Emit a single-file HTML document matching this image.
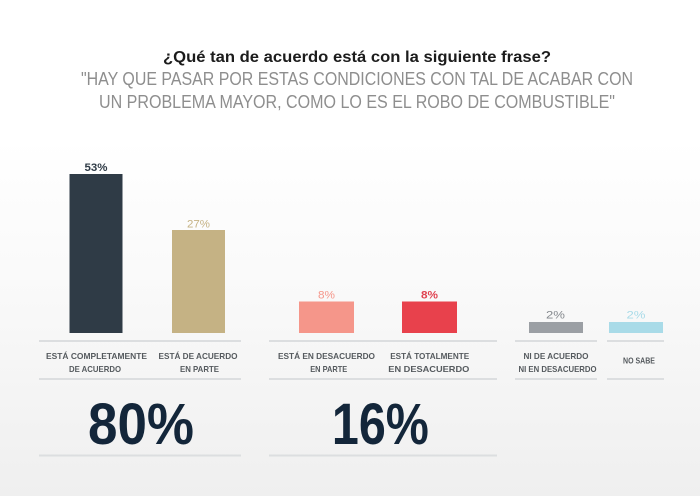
<!DOCTYPE html>
<html>
<head>
<meta charset="utf-8">
<style>
  html, body { margin:0; padding:0; }
  body { width:700px; height:496px; overflow:hidden;
    background: linear-gradient(to bottom, #ffffff 0%, #ffffff 28%, #f9f9f9 60%, #efefef 100%);
    font-family: "Liberation Sans", sans-serif; }
  svg { display:block; }
</style>
</head>
<body>
<svg width="700" height="496" viewBox="0 0 700 496" xmlns="http://www.w3.org/2000/svg" font-family="Liberation Sans, sans-serif">
  <!-- Title -->
  <text x="357" y="62" text-anchor="middle" font-size="15.5" font-weight="bold" fill="#1c1c1c" textLength="388" lengthAdjust="spacingAndGlyphs">¿Qué tan de acuerdo está con la siguiente frase?</text>
  <text x="357" y="85" text-anchor="middle" font-size="18" fill="#8e8e8e" textLength="552" lengthAdjust="spacingAndGlyphs">"HAY QUE PASAR POR ESTAS CONDICIONES CON TAL DE ACABAR CON</text>
  <text x="357" y="108" text-anchor="middle" font-size="18" fill="#8e8e8e" textLength="516" lengthAdjust="spacingAndGlyphs">UN PROBLEMA MAYOR, COMO LO ES EL ROBO DE COMBUSTIBLE"</text>

  <!-- Bars -->
  <rect x="69.5" y="174" width="53" height="159" fill="#2f3b46"/>
  <rect x="172" y="230" width="53" height="103" fill="#c5b284"/>
  <rect x="299" y="301.5" width="55" height="31.5" fill="#f5968a"/>
  <rect x="402" y="301.5" width="55" height="31.5" fill="#e8414c"/>
  <rect x="529" y="322" width="54" height="11" fill="#9b9fa4"/>
  <rect x="609" y="322" width="54" height="11" fill="#a9dbe8"/>

  <!-- Value labels -->
  <text x="96" y="171" text-anchor="middle" font-size="11" font-weight="bold" fill="#2f3b46" textLength="23" lengthAdjust="spacingAndGlyphs">53%</text>
  <text x="198.5" y="227.5" text-anchor="middle" font-size="11" fill="#c5b284" textLength="23" lengthAdjust="spacingAndGlyphs">27%</text>
  <text x="326.5" y="298.5" text-anchor="middle" font-size="11" fill="#f5968a" textLength="17" lengthAdjust="spacingAndGlyphs">8%</text>
  <text x="429.5" y="298.5" text-anchor="middle" font-size="11" font-weight="bold" fill="#e04452" textLength="17" lengthAdjust="spacingAndGlyphs">8%</text>
  <text x="555.5" y="318.5" text-anchor="middle" font-size="11" fill="#85898e" textLength="19" lengthAdjust="spacingAndGlyphs">2%</text>
  <text x="636" y="318.5" text-anchor="middle" font-size="11" fill="#a9dbe8" textLength="19" lengthAdjust="spacingAndGlyphs">2%</text>

  <!-- Separator lines -->
  <g stroke="#dcdee0" stroke-width="2">
    <line x1="39" y1="341" x2="241" y2="341"/>
    <line x1="269" y1="341" x2="497" y2="341"/>
    <line x1="515" y1="341" x2="597" y2="341"/>
    <line x1="607" y1="341" x2="664" y2="341"/>
    <line x1="39" y1="379" x2="241" y2="379"/>
    <line x1="269" y1="379" x2="497" y2="379"/>
    <line x1="515" y1="379" x2="597" y2="379"/>
    <line x1="607" y1="379" x2="664" y2="379"/>
    <line x1="39" y1="455.5" x2="241" y2="455.5"/>
    <line x1="269" y1="455.5" x2="497" y2="455.5"/>
  </g>

  <!-- Category labels -->
  <g font-size="8.5" font-weight="bold" fill="#555a5e" text-anchor="middle">
    <text x="96.5" y="359" textLength="101" lengthAdjust="spacingAndGlyphs">ESTÁ COMPLETAMENTE</text>
    <text x="95" y="372" textLength="52" lengthAdjust="spacingAndGlyphs">DE ACUERDO</text>
    <text x="198" y="359" textLength="79" lengthAdjust="spacingAndGlyphs">ESTÁ DE ACUERDO</text>
    <text x="199.5" y="372" textLength="39" lengthAdjust="spacingAndGlyphs">EN PARTE</text>
    <text x="326.5" y="359" textLength="97" lengthAdjust="spacingAndGlyphs">ESTÁ EN DESACUERDO</text>
    <text x="328.7" y="372" textLength="37" lengthAdjust="spacingAndGlyphs">EN PARTE</text>
    <text x="429.7" y="359" textLength="79" lengthAdjust="spacingAndGlyphs">ESTÁ TOTALMENTE</text>
    <text x="428.8" y="372" textLength="81" lengthAdjust="spacingAndGlyphs">EN DESACUERDO</text>
    <text x="556" y="359" textLength="65" lengthAdjust="spacingAndGlyphs">NI DE ACUERDO</text>
    <text x="557.5" y="372" textLength="78" lengthAdjust="spacingAndGlyphs">NI EN DESACUERDO</text>
    <text x="639" y="363.5" textLength="32" lengthAdjust="spacingAndGlyphs">NO SABE</text>
  </g>

  <!-- Big totals -->
  <text x="141" y="444" text-anchor="middle" font-size="58" font-weight="bold" fill="#13263a" textLength="106" lengthAdjust="spacingAndGlyphs">80%</text>
  <text x="380.4" y="444" text-anchor="middle" font-size="58" font-weight="bold" fill="#13263a" textLength="97" lengthAdjust="spacingAndGlyphs">16%</text>
</svg>
</body>
</html>
